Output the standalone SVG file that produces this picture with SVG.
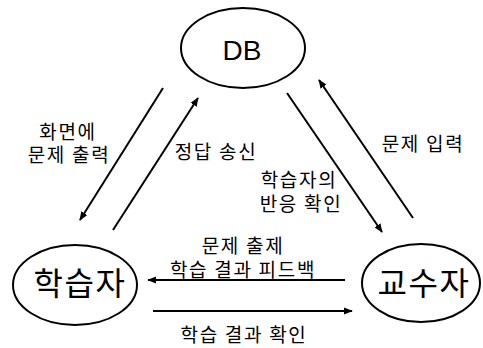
<svg xmlns="http://www.w3.org/2000/svg" width="483" height="348" viewBox="0 0 483 348">
<style>
.node{fill:#fff;stroke:#000;stroke-width:2}
.lbl{font-family:"Noto Sans CJK KR","Liberation Sans",sans-serif;fill:#000;text-anchor:middle}
.big{font-size:32px;letter-spacing:1.5px}
.sm{font-size:19px;letter-spacing:1.7px}
.edge{stroke:#000;stroke-width:2;fill:none;marker-end:url(#ah)}
</style>
<defs>
<marker id="ah" viewBox="0 0 10 8" refX="9" refY="4" markerWidth="4.5" markerHeight="3.6" orient="auto" markerUnits="strokeWidth">
<path d="M0,0 L10,4 L0,8 z" fill="#000"/>
</marker>
</defs>
<rect width="483" height="348" fill="#fff"/>
<g id="db">
<ellipse class="node" cx="243" cy="48" rx="62" ry="40"/>
<text x="242" y="60" style="font-family:'Liberation Sans',sans-serif;font-size:28px;text-anchor:middle">DB</text>
</g>
<g id="learner">
<ellipse class="node" cx="75" cy="285" rx="62" ry="40"/>
<text class="lbl big" x="80" y="295">학습자</text>
</g>
<g id="teacher">
<ellipse class="node" cx="421" cy="283" rx="59" ry="39"/>
<text class="lbl big" x="424" y="295">교수자</text>
</g>
<g id="connectors">
<line class="edge" x1="163" y1="88" x2="80" y2="220"/>
<line class="edge" x1="113" y1="230" x2="198" y2="98"/>
<line class="edge" x1="287" y1="93" x2="382" y2="232"/>
<line class="edge" x1="413" y1="218" x2="319" y2="80"/>
<line class="edge" x1="345" y1="280" x2="148" y2="280"/>
<line class="edge" x1="153" y1="311" x2="352" y2="311"/>
</g>
<g id="labels" class="lbl sm">
<text x="68" y="139">화면에</text>
<text x="69" y="162">문제 출력</text>
<text x="216" y="159">정답 송신</text>
<text x="423" y="151">문제 입력</text>
<text x="299" y="187">학습자의</text>
<text x="301" y="211">반응 확인</text>
<text x="243" y="253">문제 출제</text>
<text x="243" y="277">학습 결과 피드백</text>
<text x="244" y="342">학습 결과 확인</text>
</g>
</svg>
